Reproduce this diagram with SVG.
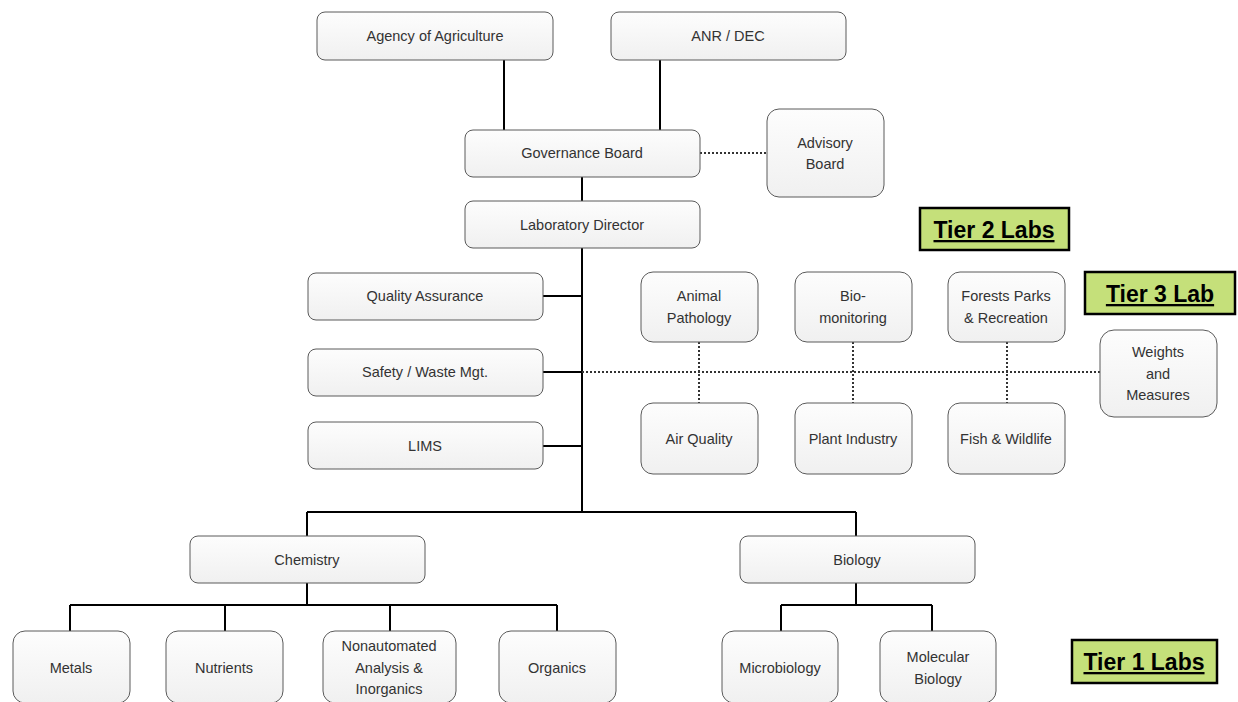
<svg xmlns="http://www.w3.org/2000/svg" width="1238" height="702" viewBox="0 0 1238 702">
<defs>
<linearGradient id="g" x1="0" y1="0" x2="0" y2="1"><stop offset="0" stop-color="#fdfdfd"/><stop offset="1" stop-color="#f0f0f0"/></linearGradient>
<style>
.n rect{fill:url(#g);stroke:#5a5a5a;stroke-width:1}
.n text{font-family:"Liberation Sans",Arial,sans-serif;font-size:14.5px;fill:#333;text-anchor:middle}
.t rect{fill:#c5e07a;stroke:#000;stroke-width:2.5}
.t text{font-family:"Liberation Sans",Arial,sans-serif;font-size:23px;font-weight:bold;fill:#000;text-anchor:middle;text-decoration:underline}
.s{stroke:#000;stroke-width:2;fill:none}
.d{stroke:#333;stroke-width:2;stroke-dasharray:2 2;fill:none}
</style>
</defs>
<rect width="1238" height="702" fill="#fff"/>
<g id="connectors">
<path class="s" d="M504 60V130M660 60V130M582 177V201M582 248V512M543 296H582M543 372H582M543 446H582M307 512H856M307 512V536M856 512V536M307 583V605M70 605H557M70 605V631M225 605V631M390 605V631M557 605V631M856 583V605M781 605H932M781 605V631M932 605V631"/>
<path class="d" d="M700 153H767M582 372H1100M699 342V403M853 342V403M1007 342V403"/>
</g>
<g id="agency" class="n"><rect x="317" y="12" width="236" height="48" rx="8"/><text x="435" y="41">Agency of Agriculture</text></g>
<g id="anr" class="n"><rect x="611" y="12" width="235" height="48" rx="8"/><text x="728" y="41">ANR / DEC</text></g>
<g id="governance" class="n"><rect x="465" y="130" width="235" height="47" rx="8"/><text x="582" y="158">Governance Board</text></g>
<g id="advisory" class="n"><rect x="767" y="109" width="117" height="88" rx="12"/><text x="825" y="148">Advisory</text><text x="825" y="169">Board</text></g>
<g id="director" class="n"><rect x="465" y="201" width="235" height="47" rx="8"/><text x="582" y="230">Laboratory Director</text></g>
<g id="qa" class="n"><rect x="308" y="273" width="235" height="47" rx="8"/><text x="425" y="301">Quality Assurance</text></g>
<g id="safety" class="n"><rect x="308" y="349" width="235" height="47" rx="8"/><text x="425" y="377">Safety / Waste Mgt.</text></g>
<g id="lims" class="n"><rect x="308" y="422" width="235" height="47" rx="8"/><text x="425" y="451">LIMS</text></g>
<g id="animal" class="n"><rect x="641" y="272" width="117" height="70" rx="12"/><text x="699" y="301">Animal</text><text x="699" y="323">Pathology</text></g>
<g id="biomon" class="n"><rect x="795" y="272" width="117" height="70" rx="12"/><text x="853" y="301">Bio-</text><text x="853" y="323">monitoring</text></g>
<g id="forests" class="n"><rect x="948" y="272" width="117" height="70" rx="12"/><text x="1006" y="301">Forests Parks</text><text x="1006" y="323">&amp; Recreation</text></g>
<g id="air" class="n"><rect x="641" y="403" width="117" height="71" rx="12"/><text x="699" y="444">Air Quality</text></g>
<g id="plant" class="n"><rect x="795" y="403" width="117" height="71" rx="12"/><text x="853" y="444">Plant Industry</text></g>
<g id="fish" class="n"><rect x="948" y="403" width="117" height="71" rx="12"/><text x="1006" y="444">Fish &amp; Wildlife</text></g>
<g id="weights" class="n"><rect x="1100" y="330" width="117" height="87" rx="14"/><text x="1158" y="357">Weights</text><text x="1158" y="379">and</text><text x="1158" y="400">Measures</text></g>
<g id="chemistry" class="n"><rect x="190" y="536" width="235" height="47" rx="8"/><text x="307" y="565">Chemistry</text></g>
<g id="biology" class="n"><rect x="740" y="536" width="235" height="47" rx="8"/><text x="857" y="565">Biology</text></g>
<g id="metals" class="n"><rect x="13" y="631" width="117" height="72" rx="12"/><text x="71" y="673">Metals</text></g>
<g id="nutrients" class="n"><rect x="166" y="631" width="117" height="72" rx="12"/><text x="224" y="673">Nutrients</text></g>
<g id="nonauto" class="n"><rect x="323" y="631" width="133" height="72" rx="12"/><text x="389" y="651">Nonautomated</text><text x="389" y="673">Analysis &amp;</text><text x="389" y="694">Inorganics</text></g>
<g id="organics" class="n"><rect x="499" y="631" width="117" height="72" rx="12"/><text x="557" y="673">Organics</text></g>
<g id="micro" class="n"><rect x="722" y="631" width="116" height="72" rx="12"/><text x="780" y="673">Microbiology</text></g>
<g id="molecular" class="n"><rect x="880" y="631" width="116" height="72" rx="12"/><text x="938" y="662">Molecular</text><text x="938" y="684">Biology</text></g>
<g id="tier2" class="t"><rect x="920" y="208" width="149" height="42"/><text x="994" y="238">Tier 2 Labs</text></g>
<g id="tier3" class="t"><rect x="1085" y="272" width="150" height="42"/><text x="1160" y="302">Tier 3 Lab</text></g>
<g id="tier1" class="t"><rect x="1072" y="640" width="145" height="43"/><text x="1144" y="670">Tier 1 Labs</text></g>
</svg>
